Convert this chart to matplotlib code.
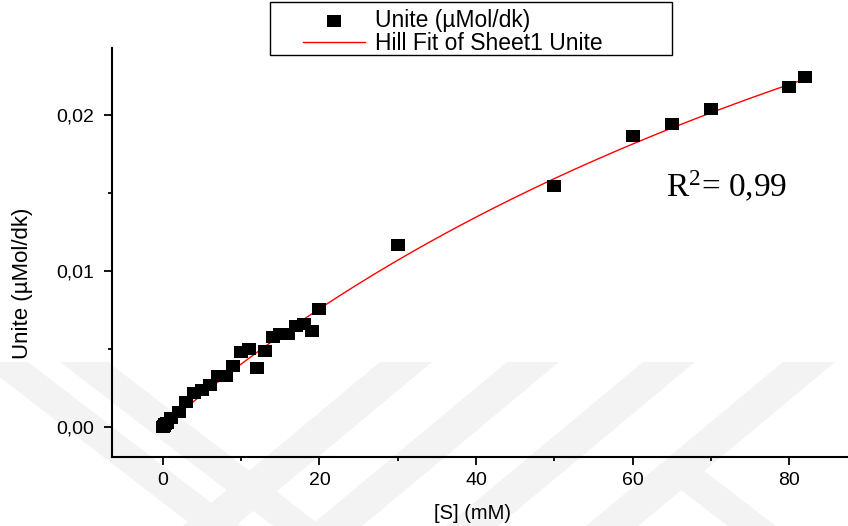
import matplotlib
matplotlib.use("Agg")
import matplotlib.pyplot as plt
import numpy as np
from matplotlib.patches import Polygon, Rectangle
from matplotlib.ticker import MultipleLocator, FuncFormatter

# substrate concentration [S] (mM) and measured activity (umol/dk)
s_mM = [0, 0.1, 0.25, 0.5, 1, 2, 3, 4, 5, 6, 7, 8, 9, 10, 11, 12, 13, 14, 15,
        16, 17, 18, 19, 20, 30, 50, 60, 65, 70, 80, 82]
unite = [0.00005, 0.0001, 0.0002, 0.0003, 0.0006, 0.0010, 0.0016, 0.0022,
         0.0024, 0.0027, 0.0033, 0.0033, 0.0039, 0.0048, 0.0050, 0.0038,
         0.0049, 0.0058, 0.0060, 0.0060, 0.0065, 0.0066, 0.0062, 0.0076,
         0.0117, 0.01545, 0.01865, 0.0194, 0.0204, 0.0218, 0.02245]

# Hill fit parameters (Vmax, K, n)
VMAX = 0.0595
KHALF = 136.7
NHILL = 1.0

W, H = 848, 526
plt.rcParams["font.family"] = ["Liberation Sans", "DejaVu Sans"]
plt.rcParams["mathtext.fontset"] = "custom"
plt.rcParams["mathtext.rm"] = "Liberation Serif"
plt.rcParams["mathtext.it"] = "Liberation Serif:italic"

fig = plt.figure(figsize=(W / 100, H / 100), dpi=100)


def px(x, y):
    # pixel position (from top-left) -> figure fraction
    return (x / W, 1 - y / H)


# faint watermark stripes in the background
wm = "#f3f3f3"
for x0 in [380, 507, 643, 783]:
    pts = [(x0, 362), (x0 + 52, 362), (x0 + 52 - 1.2 * 170, 532), (x0 - 1.2 * 170, 532)]
    fig.add_artist(Polygon([px(*p) for p in pts], closed=True, color=wm, lw=0,
                           transform=fig.transFigure, zorder=-2))
for x0, ytop in [(-20, 362), (60, 362), (655, 470)]:
    dy = 532 - ytop
    pts = [(x0, ytop), (x0 + 48, ytop), (x0 + 48 + 1.3 * dy, 532), (x0 + 1.3 * dy, 532)]
    fig.add_artist(Polygon([px(*p) for p in pts], closed=True, color=wm, lw=0,
                           transform=fig.transFigure, zorder=-2))

ax = fig.add_axes([112 / W, (H - 457) / H, (W - 112) / W, (457 - 48) / H])
ax.patch.set_alpha(0)

ax.scatter(s_mM, unite, marker=[(-1.25, -1), (1.25, -1), (1.25, 1), (-1.25, 1)],
           s=110, color="black", lw=0, zorder=3, label="Unite (\u00b5Mol/dk)")
xfit = np.linspace(0, max(s_mM), 300)
yfit = VMAX * xfit ** NHILL / (KHALF ** NHILL + xfit ** NHILL)
ax.plot(xfit, yfit, color="red", lw=1.0, zorder=2, label="Hill Fit of Sheet1 Unite")

ax.set_xlim(-6.5, 87.5)
ax.set_ylim(-0.0019, 0.0243)
ax.xaxis.set_major_locator(MultipleLocator(20))
ax.xaxis.set_minor_locator(MultipleLocator(10))
ax.yaxis.set_major_locator(MultipleLocator(0.01))
ax.yaxis.set_minor_locator(MultipleLocator(0.005))
ax.yaxis.set_major_formatter(FuncFormatter(lambda v, p: f"{v:.2f}".replace(".", ",")))

for side in ["top", "right"]:
    ax.spines[side].set_visible(False)
for side in ["left", "bottom"]:
    ax.spines[side].set_linewidth(1.5)
ax.tick_params(which="major", direction="out", length=6, width=1.3, labelsize=14, pad=5)
ax.tick_params(which="minor", direction="out", length=3, width=1.3)
ax.tick_params(axis="y", which="major", pad=7)

ax.set_xlabel("[S] (mM)", fontsize=14.5)
ax.set_ylabel("Unite (\u00b5Mol/dk)", fontsize=16)
ax.xaxis.set_label_coords((473 - 112) / 736, -0.115)
ax.yaxis.set_label_coords(-0.108, 0.425)

ax.text(64.2, 0.01474, "R$^2$= 0,99", family="Liberation Serif", fontsize=24,
        va="baseline", ha="left")

# legend with a box wider than its content
fig.add_artist(Rectangle(px(270, 55), 402 / W, 53 / H, transform=fig.transFigure,
                         facecolor="white", edgecolor="black", lw=1.0, zorder=4))
leg = fig.legend(loc="upper left", bbox_to_anchor=px(303, 9), frameon=False,
                 fontsize=16.5, borderpad=0, handlelength=2.7, handletextpad=0.45,
                 labelspacing=0.0, borderaxespad=0)
leg.set_zorder(5)

fig.savefig("out.png", dpi=100)
